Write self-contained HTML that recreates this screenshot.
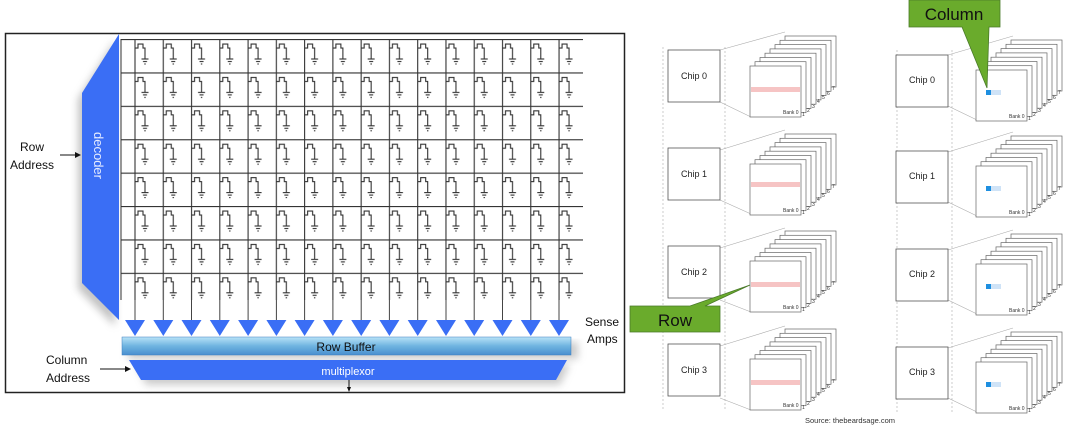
<!DOCTYPE html>
<html><head><meta charset="utf-8"><style>
html,body{margin:0;padding:0;background:#fff;}
svg{display:block;font-family:"Liberation Sans",sans-serif;}
</style></head><body>
<svg width="1080" height="436" viewBox="0 0 1080 436" xmlns="http://www.w3.org/2000/svg">
<defs>
<pattern id="cell" x="121" y="39" width="28.27" height="33.4" patternUnits="userSpaceOnUse">
<path d="M0 0.6H28.27 M14 0V33.4 M14 9H17 V5 H22 V9 H24 V20 M20.5 20H27.5 M22 22.5H26 M23.3 25H24.7" stroke="#333" stroke-width="1.1" fill="none"/>
</pattern>
<filter id="sh" x="-20%" y="-20%" width="140%" height="160%"><feGaussianBlur stdDeviation="4"/></filter>
<linearGradient id="rb" x1="0" y1="0" x2="0" y2="1"><stop offset="0" stop-color="#b9e3f7"/><stop offset="0.5" stop-color="#6fb4e0"/><stop offset="1" stop-color="#4a8fcf"/></linearGradient>
<g id="stack">
<g fill="#fff" stroke="#666" stroke-width="0.7">
<rect x="35" y="-30" width="51" height="51"/><rect x="30" y="-25.7" width="51" height="51"/>
<rect x="25" y="-21.4" width="51" height="51"/><rect x="20" y="-17.1" width="51" height="51"/>
<rect x="15" y="-12.8" width="51" height="51"/><rect x="10" y="-8.5" width="51" height="51"/>
<rect x="5" y="-4.3" width="51" height="51"/><rect x="0" y="0" width="51" height="51"/>
</g>
<g font-size="5" fill="#333"><text x="52" y="50">1</text><text x="57" y="46">2</text><text x="62" y="42">3</text><text x="67" y="37">4</text><text x="72" y="33">5</text><text x="77" y="29">6</text><text x="82" y="24">7</text></g>
<text x="33" y="48" font-size="5" fill="#333">Bank 0</text>
</g>
<g id="chip"><rect x="0" y="0" width="52" height="52" fill="#fff" stroke="#555" stroke-width="0.8"/></g>
</defs>

<!-- left panel -->
<rect x="5.5" y="33.5" width="619" height="359" fill="#fff" stroke="#222" stroke-width="1.5"/>
<polygon points="121,36 84,95 84,285 121,322" fill="#888" filter="url(#sh)" transform="translate(-6,4)" opacity="0.5"/>
<polygon points="119,34 82,93 82,283 119,320" fill="#3a6ef5"/>
<text x="0" y="0" transform="translate(94,132) rotate(90)" font-size="13" fill="#e6ecff">decoder</text>
<rect x="121" y="39" width="462" height="261" fill="url(#cell)"/>
<line x1="121" y1="39" x2="121" y2="300" stroke="#333" stroke-width="1"/>
<g stroke="#444" stroke-width="1">
<path d="M135 300V322M163.3 300V322M191.5 300V322M219.8 300V322M248.1 300V322M276.4 300V322M304.6 300V322M332.9 300V322M361.2 300V322M389.4 300V322M417.7 300V322M446 300V322M474.2 300V322M502.5 300V322M530.8 300V322M559 300V322"/>
</g>
<text x="20" y="151" font-size="12" fill="#111">Row</text>
<text x="10" y="169" font-size="12" fill="#111">Address</text>
<path d="M60 155H78" stroke="#111" stroke-width="1"/><polygon points="81,155 75,152 75,158" fill="#111"/>
<!-- sense amps -->
<g fill="#3a6ef5">
<path d="M125 320h20l-10 16z M153.3 320h20l-10 16z M181.5 320h20l-10 16z M209.8 320h20l-10 16z M238.1 320h20l-10 16z M266.4 320h20l-10 16z M294.6 320h20l-10 16z M322.9 320h20l-10 16z M351.2 320h20l-10 16z M379.4 320h20l-10 16z M407.7 320h20l-10 16z M436 320h20l-10 16z M464.2 320h20l-10 16z M492.5 320h20l-10 16z M520.8 320h20l-10 16z M549 320h20l-10 16z"/>
</g>
<rect x="128" y="342" width="450" height="17" fill="#999" filter="url(#sh)" opacity="0.5"/>
<rect x="122" y="337" width="449" height="18" fill="url(#rb)" stroke="#3d7fc0" stroke-width="0.5"/>
<text x="346" y="351" font-size="12" fill="#111" text-anchor="middle">Row Buffer</text>
<polygon points="136,364 570,364 560,385 146,385" fill="#999" filter="url(#sh)" opacity="0.5"/>
<polygon points="129,360 567,360 556,380 141,380" fill="#3a6ef5"/>
<text x="348" y="375" font-size="11" fill="#fff" text-anchor="middle">multiplexor</text>
<path d="M349 380V389" stroke="#111"/><polygon points="349,392 347,387 351,387" fill="#111"/>
<text x="585" y="326" font-size="12" fill="#111">Sense</text>
<text x="587" y="343" font-size="12" fill="#111">Amps</text>
<text x="46" y="364" font-size="12" fill="#111">Column</text>
<text x="46" y="382" font-size="12" fill="#111">Address</text>
<path d="M100 369H127" stroke="#111"/><polygon points="131,369 125,366 125,372" fill="#111"/>

<!-- right: group 1 -->
<g stroke="#aaa" stroke-width="0.6" stroke-dasharray="2,2" fill="none">
<path d="M663 47V410 M725 47V410"/>
<path d="M897 50V412 M952 50V412"/>
</g>
<g stroke="#aaa" stroke-width="0.6" fill="none">
<path d="M720 50L785 32 M720 102L751 117 M720 150L785 130 M720 200L751 214 M720 248L785 228 M720 300L751 312 M720 346L785 326 M720 398L751 410"/>
<path d="M948 55L1013 36 M948 106L977 120 M948 152L1013 132 M948 202L977 216 M948 250L1013 230 M948 300L977 314 M948 348L1013 328 M948 398L977 412"/>
</g>
<use href="#chip" x="668" y="50"/><use href="#chip" x="668" y="148"/><use href="#chip" x="668" y="246"/><use href="#chip" x="668" y="344"/>
<g font-size="9" fill="#222" text-anchor="middle">
<text x="694" y="79">Chip 0</text><text x="694" y="177">Chip 1</text><text x="694" y="275">Chip 2</text><text x="694" y="373">Chip 3</text>
</g>
<use href="#stack" x="750" y="66"/><use href="#stack" x="750" y="164"/><use href="#stack" x="750" y="261"/><use href="#stack" x="750" y="359"/>
<g fill="#f6c4c4"><rect x="751" y="87" width="49" height="5"/><rect x="751" y="182" width="49" height="5"/><rect x="751" y="282" width="49" height="5"/><rect x="751" y="380" width="49" height="5"/></g>

<!-- group 2 -->
<use href="#chip" x="896" y="55"/><use href="#chip" x="896" y="151"/><use href="#chip" x="896" y="249"/><use href="#chip" x="896" y="347"/>
<g font-size="9" fill="#222" text-anchor="middle">
<text x="922" y="83">Chip 0</text><text x="922" y="179">Chip 1</text><text x="922" y="277">Chip 2</text><text x="922" y="375">Chip 3</text>
</g>
<use href="#stack" x="976" y="70"/><use href="#stack" x="976" y="166"/><use href="#stack" x="976" y="264"/><use href="#stack" x="976" y="362"/>
<g>
<rect x="986" y="90" width="5" height="5" fill="#1e8fe0"/><rect x="991" y="90" width="10" height="5" fill="#cfe3f7"/>
<rect x="986" y="186" width="5" height="5" fill="#1e8fe0"/><rect x="991" y="186" width="10" height="5" fill="#cfe3f7"/>
<rect x="986" y="284" width="5" height="5" fill="#1e8fe0"/><rect x="991" y="284" width="10" height="5" fill="#cfe3f7"/>
<rect x="986" y="382" width="5" height="5" fill="#1e8fe0"/><rect x="991" y="382" width="10" height="5" fill="#cfe3f7"/>
</g>

<!-- callouts -->
<polygon points="630,306 690,306 750,285 705,306 720,306 720,332 630,332" fill="#6aab2c" stroke="#4a7a2a" stroke-width="0.8"/>
<text x="675" y="326" font-size="17" fill="#111" text-anchor="middle">Row</text>
<polygon points="909,0 1000,0 1000,27 989,27 987,88 962,27 909,27" fill="#6aab2c" stroke="#4a7a2a" stroke-width="0.8"/>
<text x="954" y="20" font-size="17" fill="#111" text-anchor="middle">Column</text>

<text x="805" y="423" font-size="7.5" fill="#333">Source: thebeardsage.com</text>
</svg>
</body></html>
